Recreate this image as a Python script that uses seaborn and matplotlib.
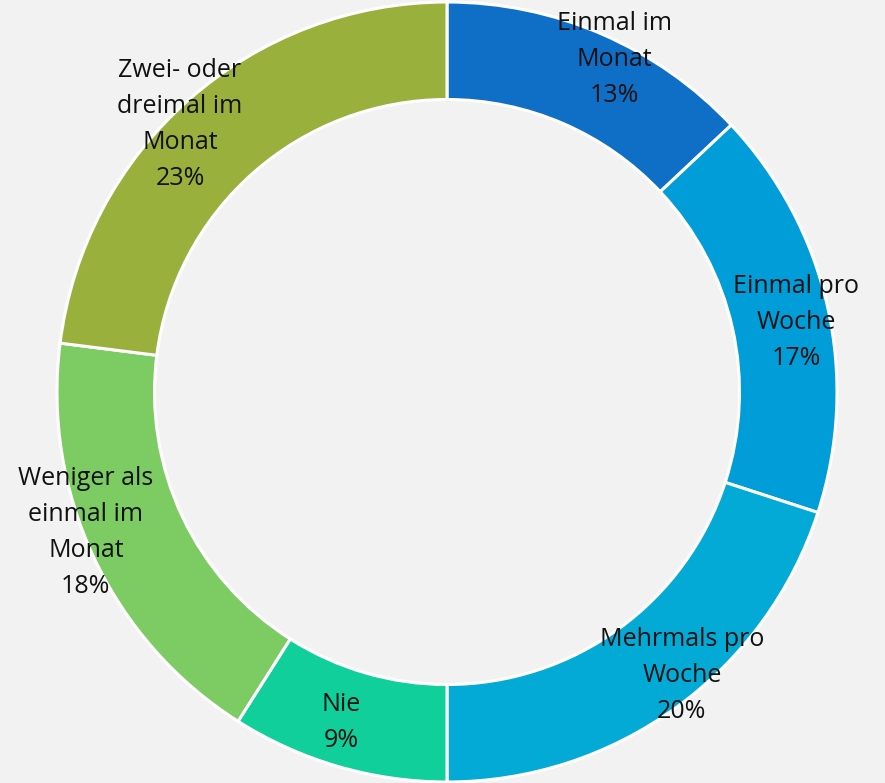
import numpy as np
import matplotlib
matplotlib.use("Agg")
import matplotlib.pyplot as plt
import seaborn as sns

# Donut chart: frequency of use
categories = ["Einmal im\nMonat", "Einmal pro\nWoche", "Mehrmals pro\nWoche", "Nie",
              "Weniger als\neinmal im\nMonat", "Zwei- oder\ndreimal im\nMonat"]
shares = [13, 17, 20, 9, 18, 23]
colors = ["#0F6FC6", "#009DD9", "#02AAD5", "#10CF9B", "#7DCB63", "#9AB03D"]

sns.set_theme(style="white")
plt.rcParams["font.family"] = ["Open Sans", "DejaVu Sans"]

W, H, dpi = 885, 783, 100
cx, cy, R = 447, 392, 390

fig = plt.figure(figsize=(W / dpi, H / dpi), dpi=dpi, facecolor="#F2F2F2")
ax = fig.add_axes([0, 0, 1, 1])
ax.set_facecolor("#F2F2F2")

wedges, _ = ax.pie(shares, colors=colors, startangle=90, counterclock=False, radius=1,
                   wedgeprops=dict(width=0.25, edgecolor="white", linewidth=2.2))

# label placement per slice (Excel best-fit): radius and angle nudge in degrees
label_r = [0.954, 0.912, 0.945, 0.889, 0.994, 0.970]
label_da = [3.4, 1.4, -3.6, 1.6, 3.9, -3.5]
total = sum(shares)
cum = np.cumsum([0] + shares[:-1])
for lab, v, c, r, da in zip(categories, shares, cum, label_r, label_da):
    ang = np.deg2rad(90 - ((c + v / 2) / total * 360 + da))
    ax.text(r * np.cos(ang), r * np.sin(ang), f"{lab}\n{v}%", ha="center", va="center",
            fontsize=18, color="#111111", linespacing=1.58)

ax.set_xlim(-cx / R, (W - cx) / R)
ax.set_ylim(-(H - cy) / R, cy / R)
ax.set_aspect("equal")
ax.axis("off")

fig.savefig("out.png", dpi=dpi, facecolor=fig.get_facecolor())
